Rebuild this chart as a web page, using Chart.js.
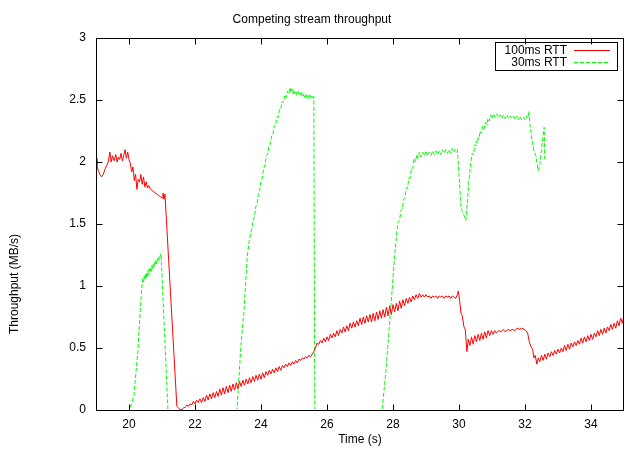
<!DOCTYPE html>
<html>
<head>
<meta charset="utf-8">
<script src="https://cdn.jsdelivr.net/npm/chart.js@4/dist/chart.umd.min.js"></script>
<style>
  body { margin: 0; background: #fff; }
  #wrap { width: 625px; height: 449px; }
</style>
</head>
<body>
<div id="wrap"><canvas id="tput" width="625" height="449"></canvas></div>
<script>
const chartTitle = 'Competing stream throughput'
const xTitle = 'Time (s)'
const yTitle = 'Throughput (MB/s)'
const xTicks = [20, 22, 24, 26, 28, 30, 32, 34]
const yTicks = [0, 0.5, 1, 1.5, 2, 2.5, 3]

// [time (s), throughput (MB/s)]
const rtt100 = [
  [19.00,2.03],[19.03,1.97],[19.07,1.93],[19.12,1.90],[19.17,1.88],[19.22,1.90],[19.27,1.94],[19.32,1.97],
  [19.37,2.00],[19.42,2.08],[19.46,2.00],[19.50,2.05],[19.55,2.01],[19.60,2.06],[19.64,2.00],[19.68,2.04],
  [19.72,2.02],[19.76,2.07],[19.80,2.01],[19.84,2.05],[19.88,2.10],[19.92,2.03],[19.96,2.08],[20.00,2.02],
  [20.04,1.99],[20.08,1.92],[20.12,1.96],[20.16,1.85],[20.20,1.90],[20.24,1.78],[20.28,1.86],[20.32,1.84],
  [20.36,1.90],[20.40,1.82],[20.44,1.88],[20.48,1.80],[20.52,1.84],[20.56,1.79],[20.60,1.81],[20.65,1.78],
  [20.70,1.77],[20.75,1.76],[20.80,1.75],[20.85,1.74],[20.90,1.73],[20.95,1.72],[21.00,1.71],[21.03,1.75],
  [21.06,1.70],[21.09,1.74],
  [21.45,0.03],[21.52,0.01],[21.60,0.00],[21.66,0.02],
  [21.70,0.02],[21.75,0.04],[21.80,0.03],[21.85,0.05],[21.90,0.04],[21.95,0.07],[22.00,0.05],[22.05,0.08],
  [22.10,0.06],[22.15,0.09],[22.20,0.06],[22.25,0.10],[22.30,0.07],[22.35,0.12],[22.40,0.08],[22.45,0.13],
  [22.50,0.09],[22.55,0.14],[22.60,0.10],[22.65,0.15],[22.70,0.11],[22.75,0.17],[22.80,0.12],[22.85,0.18],
  [22.90,0.13],[22.95,0.19],[23.00,0.14],[23.05,0.20],[23.10,0.15],[23.15,0.21],[23.20,0.16],[23.25,0.22],
  [23.30,0.17],[23.35,0.23],[23.40,0.19],[23.45,0.24],[23.50,0.20],[23.55,0.25],[23.60,0.21],[23.65,0.26],
  [23.70,0.22],[23.75,0.27],[23.80,0.23],[23.85,0.28],[23.90,0.24],[23.95,0.29],[24.00,0.25],[24.05,0.30],
  [24.10,0.26],[24.15,0.31],[24.20,0.28],[24.25,0.32],[24.30,0.29],[24.35,0.33],[24.40,0.30],[24.45,0.34],
  [24.50,0.31],[24.55,0.35],[24.60,0.32],[24.65,0.36],[24.70,0.34],[24.75,0.37],[24.80,0.35],[24.85,0.38],
  [24.90,0.36],[24.95,0.39],[25.00,0.37],[25.05,0.40],[25.10,0.38],[25.15,0.41],[25.20,0.40],[25.25,0.42],
  [25.30,0.41],[25.35,0.43],[25.40,0.42],[25.45,0.44],[25.50,0.43],[25.55,0.45],[25.60,0.47],[25.65,0.50],
  [25.70,0.54],[25.75,0.53],[25.80,0.56],[25.85,0.54],
  [25.90,0.58],[25.95,0.55],[26.00,0.59],[26.05,0.56],[26.10,0.61],[26.15,0.58],[26.20,0.62],[26.25,0.59],
  [26.30,0.64],[26.35,0.60],[26.40,0.65],[26.45,0.62],[26.50,0.67],[26.55,0.63],[26.60,0.68],[26.65,0.64],
  [26.70,0.70],[26.75,0.66],[26.80,0.71],[26.85,0.67],[26.90,0.72],[26.95,0.68],[27.00,0.74],[27.05,0.69],
  [27.10,0.75],[27.15,0.70],[27.20,0.76],[27.25,0.71],[27.30,0.77],[27.35,0.71],[27.40,0.78],[27.45,0.72],
  [27.50,0.79],[27.55,0.73],[27.60,0.80],[27.65,0.74],[27.70,0.81],[27.75,0.75],[27.80,0.83],[27.85,0.76],
  [27.90,0.84],[27.95,0.77],[28.00,0.85],[28.05,0.79],[28.10,0.86],[28.15,0.80],[28.20,0.88],[28.25,0.82],
  [28.30,0.89],[28.35,0.84],[28.40,0.90],[28.45,0.86],[28.50,0.91],[28.55,0.87],[28.60,0.92],[28.65,0.89],
  [28.70,0.93],[28.75,0.90],[28.80,0.94],[28.85,0.91],[28.90,0.93],[28.95,0.91],[29.00,0.93],[29.05,0.91],
  [29.10,0.92],[29.15,0.90],[29.20,0.92],[29.25,0.91],[29.30,0.92],[29.35,0.90],[29.40,0.92],[29.45,0.91],
  [29.50,0.92],[29.55,0.90],[29.60,0.92],[29.65,0.91],[29.70,0.92],[29.75,0.90],[29.80,0.92],[29.85,0.91],
  [29.90,0.90],[29.95,0.93],[29.98,0.96],[30.02,0.88],[30.06,0.78],[30.10,0.76],[30.15,0.67],[30.19,0.65],
  [30.24,0.47],
  [30.28,0.57],[30.33,0.52],[30.38,0.59],[30.43,0.53],[30.48,0.60],[30.53,0.55],[30.58,0.61],[30.63,0.56],
  [30.68,0.62],[30.73,0.57],[30.78,0.63],[30.83,0.58],[30.88,0.64],[30.93,0.60],[30.98,0.64],[31.03,0.61],
  [31.08,0.64],[31.13,0.62],[31.20,0.64],[31.27,0.63],[31.34,0.65],[31.41,0.63],[31.48,0.65],[31.55,0.64],
  [31.62,0.65],[31.69,0.64],[31.76,0.66],[31.83,0.65],[31.90,0.66],[31.97,0.65],[32.03,0.64],[32.08,0.62],
  [32.13,0.55],[32.18,0.51],[32.23,0.49],[32.27,0.42],[32.31,0.44],[32.36,0.37],
  [32.40,0.42],[32.45,0.39],[32.50,0.44],[32.55,0.40],[32.60,0.45],[32.65,0.41],[32.70,0.46],[32.75,0.43],
  [32.80,0.47],[32.85,0.44],[32.90,0.48],[32.95,0.45],[33.00,0.49],[33.05,0.46],[33.10,0.50],[33.15,0.47],
  [33.20,0.52],[33.25,0.48],[33.30,0.53],[33.35,0.49],[33.40,0.54],[33.45,0.51],[33.50,0.55],[33.55,0.52],
  [33.60,0.56],[33.65,0.53],[33.70,0.58],[33.75,0.54],[33.80,0.59],[33.85,0.55],[33.90,0.60],[33.95,0.56],
  [34.00,0.61],[34.05,0.57],[34.10,0.62],[34.15,0.59],[34.20,0.64],[34.25,0.60],[34.30,0.65],[34.35,0.61],
  [34.40,0.66],[34.45,0.62],[34.50,0.67],[34.55,0.64],[34.60,0.69],[34.65,0.65],[34.70,0.70],[34.75,0.66],
  [34.80,0.72],[34.85,0.68],[34.90,0.74],[34.95,0.70],[35.00,0.76]
]

const rtt30 = [
  [19.00,0],[20.00,0],[20.08,0.05],[20.15,0.12],[20.27,0.48],[20.35,0.85],
  [20.40,1.02],[20.42,1.06],[20.44,1.03],[20.46,1.08],[20.48,1.05],[20.50,1.10],[20.52,1.06],[20.54,1.11],
  [20.56,1.08],[20.58,1.13],[20.60,1.09],[20.62,1.14],[20.64,1.11],[20.66,1.15],[20.68,1.12],[20.70,1.17],
  [20.72,1.14],[20.74,1.18],[20.76,1.15],[20.78,1.19],[20.80,1.17],[20.82,1.21],[20.84,1.18],[20.86,1.22],
  [20.88,1.20],[20.90,1.23],[20.92,1.21],[20.94,1.24],[20.97,1.26],[21.18,0],
  [23.27,0],[23.40,0.55],[23.48,0.78],[23.58,1.23],[23.65,1.38],
  [23.72,1.46],[23.76,1.53],[23.80,1.56],[23.84,1.64],[23.88,1.66],[23.92,1.74],[23.96,1.77],[24.00,1.85],
  [24.04,1.87],[24.08,1.95],[24.12,1.97],[24.16,2.05],[24.20,2.06],[24.24,2.13],[24.28,2.14],[24.32,2.21],
  [24.36,2.22],[24.40,2.29],[24.44,2.29],[24.48,2.36],[24.52,2.36],[24.56,2.43],[24.60,2.43],[24.64,2.49],
  [24.68,2.48],[24.72,2.54],[24.76,2.52],[24.80,2.57],[24.84,2.55],[24.88,2.60],[24.91,2.56],[24.94,2.59],
  [24.97,2.55],[25.00,2.58],[25.03,2.55],[25.06,2.57],[25.09,2.54],[25.12,2.57],[25.15,2.54],[25.18,2.56],
  [25.21,2.53],[25.24,2.56],[25.27,2.53],[25.30,2.55],[25.33,2.52],[25.36,2.55],[25.39,2.52],[25.42,2.54],
  [25.45,2.51],[25.48,2.54],[25.51,2.51],[25.54,2.53],[25.58,2.51],[25.60,2.53],[25.63,0],
  [27.67,0],[27.78,0.30],[27.88,0.64],[27.96,0.92],[28.03,1.18],
  [28.12,1.45],[28.16,1.52],[28.20,1.53],[28.24,1.61],[28.28,1.62],[28.32,1.70],[28.36,1.71],[28.40,1.79],
  [28.44,1.79],[28.48,1.87],[28.52,1.87],[28.56,1.95],[28.60,1.95],[28.64,2.03],[28.68,2.00],[28.72,2.06],
  [28.76,2.03],[28.80,2.08],[28.85,2.04],[28.90,2.08],[28.95,2.05],[29.00,2.09],[29.05,2.05],[29.10,2.08],
  [29.15,2.05],[29.20,2.09],[29.25,2.06],[29.30,2.09],[29.35,2.06],[29.40,2.09],[29.45,2.06],[29.50,2.10],
  [29.55,2.07],[29.60,2.10],[29.65,2.07],[29.70,2.10],[29.75,2.07],[29.80,2.11],[29.85,2.08],[29.90,2.11],
  [29.95,2.10],[30.00,1.90],[30.06,1.64],[30.10,1.60],[30.15,1.57],[30.20,1.53],[30.22,1.55],[30.26,1.70],
  [30.30,1.85],
  [30.36,2.00],[30.40,2.07],[30.44,2.06],[30.48,2.14],[30.52,2.13],[30.56,2.20],[30.60,2.18],[30.64,2.25],
  [30.68,2.23],[30.72,2.29],[30.76,2.27],[30.80,2.32],[30.84,2.30],[30.88,2.35],[30.92,2.33],[30.96,2.38],
  [31.00,2.35],[31.05,2.39],[31.10,2.36],[31.15,2.39],[31.20,2.36],[31.25,2.38],[31.30,2.35],[31.35,2.38],
  [31.40,2.35],[31.45,2.38],[31.50,2.35],[31.55,2.37],[31.60,2.35],[31.65,2.37],[31.70,2.34],[31.75,2.37],
  [31.80,2.34],[31.85,2.37],[31.90,2.34],[31.95,2.36],[32.00,2.34],[32.05,2.37],[32.08,2.35],[32.12,2.41],
  [32.15,2.30],[32.20,2.20],[32.27,2.09],[32.33,2.05],[32.40,1.93],[32.45,1.98],[32.50,2.10],[32.55,2.22],
  [32.58,2.28],[32.60,2.01]
]

const fontFamily = '"Liberation Sans", Arial, sans-serif'
Chart.defaults.font.family = fontFamily
Chart.defaults.color = '#000'

// gnuplot style frame: border, inward ticks on all four sides, boxed legend, y label
const gnuplotFrame = {
  id: 'gnuplotFrame',
  afterDatasetsDraw(chart) {
    const ctx = chart.ctx
    const { left, top, right, bottom } = chart.chartArea
    const l = Math.floor(left) + 0.5, t = Math.floor(top) + 0.5
    const r = Math.floor(right) - 0.5, b = Math.floor(bottom) + 0.5
    ctx.save()
    ctx.strokeStyle = '#000'
    ctx.lineWidth = 1
    ctx.strokeRect(l, t, r - l, b - t)
    ctx.beginPath()
    chart.scales.x.ticks.forEach(tk => {
      const px = Math.round(chart.scales.x.getPixelForValue(tk.value)) + 0.5
      ctx.moveTo(px, b); ctx.lineTo(px, b - 6)
      ctx.moveTo(px, t); ctx.lineTo(px, t + 6)
    })
    chart.scales.y.ticks.forEach(tk => {
      const py = Math.round(chart.scales.y.getPixelForValue(tk.value)) + 0.5
      ctx.moveTo(l, py); ctx.lineTo(l + 6, py)
      ctx.moveTo(r, py); ctx.lineTo(r - 6, py)
    })
    ctx.stroke()

    ctx.font = '12px ' + fontFamily
    ctx.fillStyle = '#000'

    // y label, sitting low as in the original terminal output
    ctx.save()
    ctx.translate(15, (top + bottom) / 2 + 60)
    ctx.rotate(-Math.PI / 2)
    ctx.textAlign = 'center'
    ctx.textBaseline = 'middle'
    ctx.fillText(yTitle, 0, 0)
    ctx.restore()

    // legend box
    const bx = Math.floor(right) - 128.5, by = Math.floor(top) + 4.5
    ctx.strokeRect(bx, by, 122, 28)
    ctx.textAlign = 'right'
    ctx.textBaseline = 'middle'
    chart.data.datasets.forEach((ds, i) => {
      const ry = Math.floor(top) + 12.5 + i * 12
      ctx.fillStyle = '#000'
      ctx.fillText(ds.label, right - 57, ry)
      ctx.strokeStyle = ds.borderColor
      ctx.setLineDash(ds.borderDash || [])
      ctx.beginPath()
      ctx.moveTo(right - 50, ry); ctx.lineTo(right - 14, ry)
      ctx.stroke()
      ctx.setLineDash([])
    })
    ctx.restore()
  }
}

const tput = document.getElementById('tput').getContext('2d')

const chart = new Chart(tput, {
  type: 'line',
  data: {
    datasets: [{
      label: '100ms RTT',
      data: rtt100.map(p => ({ x: p[0], y: p[1] })),
      borderColor: '#ff0000',
      borderWidth: 1,
      pointRadius: 0,
      tension: 0
    },
    {
      label: '30ms RTT',
      data: rtt30.map(p => ({ x: p[0], y: p[1] })),
      borderColor: '#00ff00',
      borderWidth: 1,
      borderDash: [4, 2],
      pointRadius: 0,
      tension: 0,
      clip: { left: 0, top: 0, right: 0, bottom: -1 }
    }]
  },
  options: {
    responsive: false,
    animation: false,
    devicePixelRatio: 1,
    layout: { padding: { left: 0, right: 1, top: 0, bottom: 0 } },
    plugins: {
      legend: { display: false },
      tooltip: { enabled: false },
      title: {
        display: true,
        text: chartTitle,
        font: { size: 12, weight: 'normal', lineHeight: '14px' },
        padding: { top: 13, bottom: 11 }
      }
    },
    scales: {
      x: {
        type: 'linear',
        min: 19,
        max: 35,
        afterBuildTicks: s => { s.ticks = xTicks.map(v => ({ value: v })) },
        afterFit: s => { s.height = 39 },
        grid: { display: false, drawTicks: false },
        border: { display: false },
        ticks: { font: { size: 12 }, padding: 7, maxRotation: 0 },
        title: { display: true, text: xTitle, font: { size: 12, lineHeight: '14px' }, padding: { top: 0, bottom: 2 } }
      },
      y: {
        min: 0,
        max: 3,
        afterBuildTicks: s => { s.ticks = yTicks.map(v => ({ value: v })) },
        afterFit: s => { s.width = 96 },
        grid: { display: false, drawTicks: false },
        border: { display: false },
        ticks: { font: { size: 12 }, padding: 10, callback: v => String(v) },
        title: { display: false, text: yTitle }
      }
    }
  },
  plugins: [gnuplotFrame]
})
</script>
</body>
</html>
